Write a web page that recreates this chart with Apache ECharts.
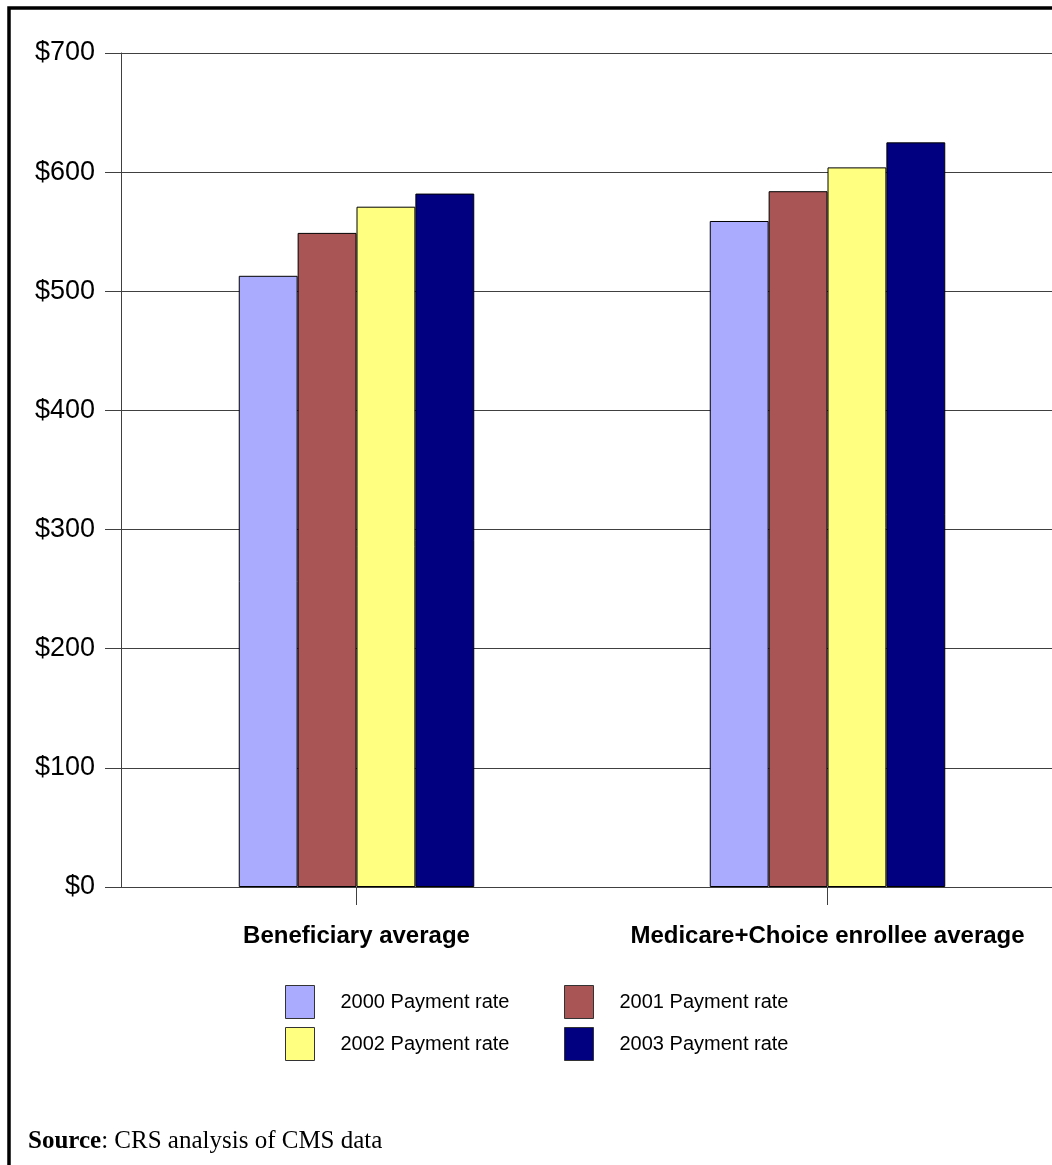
<!DOCTYPE html>
<html>
<head>
<meta charset="utf-8">
<script src="https://cdn.jsdelivr.net/npm/echarts@6/dist/echarts.min.js"></script>
<style>
html,body{margin:0;padding:0;background:#fff;overflow:hidden;width:1052px;height:1165px;}
#chart{width:1075px;height:1165px;}
</style>
</head>
<body>
<div id="chart"></div>
<script>
const categories = ['Beneficiary average', 'Medicare+Choice enrollee average'];
const seriesNames = ['2000 Payment rate', '2001 Payment rate', '2002 Payment rate', '2003 Payment rate'];
const rate2000 = [513, 559];
const rate2001 = [549, 584];
const rate2002 = [571, 604];
const rate2003 = [582, 625];
const yTicks = [0, 100, 200, 300, 400, 500, 600, 700];
const sourceBold = 'Source';
const sourceRest = ': CRS analysis of CMS data';

const colors = ['#AAAAFF', '#AA5555', '#FFFF80', '#000080'];
const values = [rate2000, rate2001, rate2002, rate2003];

const chart = echarts.init(document.getElementById('chart'), null, {renderer: 'canvas'});

const legendCommon = {
  orient: 'vertical',
  padding: 0,
  itemWidth: 29,
  itemHeight: 33,
  itemGap: 8,
  icon: 'rect',
  itemStyle: {borderColor: '#333', borderWidth: 1},
  textStyle: {fontFamily: 'Liberation Sans, Arial, sans-serif', fontSize: 20, color: '#000', padding: [0, 0, 0, 21]},
  selectedMode: false
};

chart.setOption({
  animation: false,
  backgroundColor: '#fff',
  grid: {left: 121, top: 53, width: 942, height: 834, containLabel: false},
  xAxis: {
    type: 'category',
    data: categories,
    axisLine: {show: true, lineStyle: {color: '#404040', width: 1}},
    axisTick: {show: true, interval: 0, alignWithLabel: true, length: 18, lineStyle: {color: '#404040'}},
    axisLabel: {
      interval: 0,
      margin: 37,
      color: '#000',
      fontFamily: 'Liberation Sans, Arial, sans-serif',
      fontWeight: 'bold',
      fontSize: 24
    }
  },
  yAxis: {
    type: 'value',
    min: yTicks[0],
    max: yTicks[yTicks.length - 1],
    interval: 100,
    axisLine: {show: true, lineStyle: {color: '#404040', width: 1}},
    axisTick: {show: true, length: 16, lineStyle: {color: '#404040'}},
    splitLine: {show: true, lineStyle: {color: '#404040', width: 1}},
    axisLabel: {
      margin: 26,
      color: '#000',
      fontFamily: 'Liberation Sans, Arial, sans-serif',
      fontSize: 27,
      formatter: v => '$' + v
    }
  },
  legend: [
    Object.assign({}, legendCommon, {left: 285, top: 985, data: [seriesNames[0], seriesNames[2]]}),
    Object.assign({}, legendCommon, {left: 564, top: 985, data: [seriesNames[1], seriesNames[3]]})
  ],
  series: seriesNames.map((name, i) => ({
    name: name,
    type: 'bar',
    data: values[i],
    barGap: '0%',
    barCategoryGap: '50%',
    itemStyle: {color: colors[i], borderColor: '#000', borderWidth: 1}
  })),
  graphic: [
    {
      type: 'rect',
      shape: {x: 9, y: 8, width: 1200, height: 1300},
      style: {fill: 'none', stroke: '#000', lineWidth: 3.5},
      silent: true
    },
    {
      type: 'text',
      left: 28,
      top: 1129,
      style: {
        text: '{b|' + sourceBold + '}{r|' + sourceRest + '}',
        rich: {
          b: {fontFamily: 'Liberation Serif, Times New Roman, serif', fontWeight: 'bold', fontSize: 25, fill: '#000'},
          r: {fontFamily: 'Liberation Serif, Times New Roman, serif', fontSize: 25, fill: '#000'}
        }
      }
    }
  ]
});
</script>
</body>
</html>
